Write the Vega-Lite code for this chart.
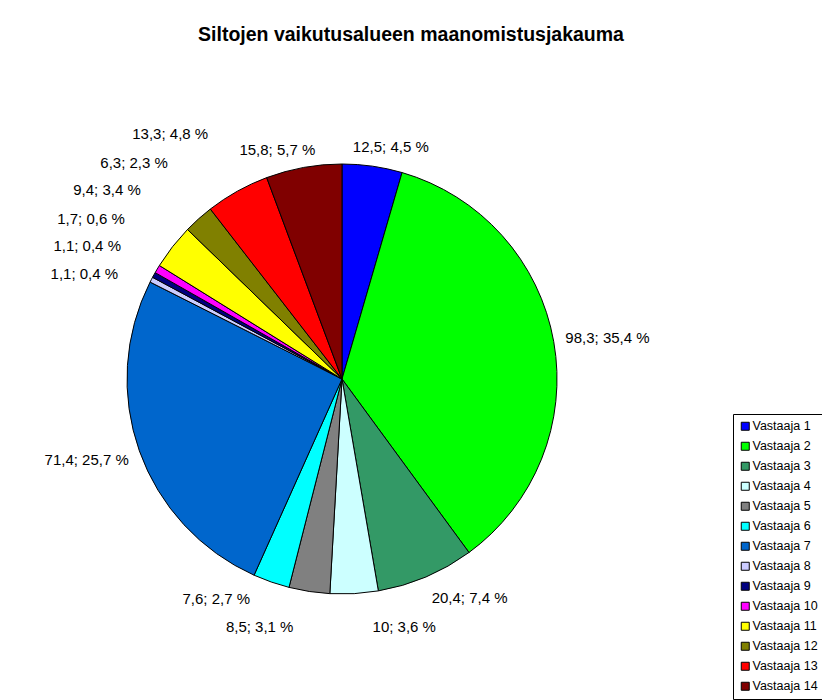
{
  "$schema": "https://vega.github.io/schema/vega-lite/v6.json",
  "width": 430,
  "height": 430,
  "autosize": {"type": "none"},
  "padding": {"left": 127, "top": 164, "right": 265, "bottom": 106},
  "background": "white",
  "title": {
    "text": "Siltojen vaikutusalueen maanomistusjakauma",
    "font": "Liberation Sans",
    "fontSize": 19.5,
    "fontWeight": "bold",
    "color": "black",
    "anchor": "middle",
    "dx": 69,
    "offset": 48
  },
  "config": {
    "view": {"stroke": null},
    "text": {"font": "Liberation Sans", "fontSize": 15, "color": "black", "baseline": "middle"}
  },
  "data": {
    "values": [
      {"n": 1, "name": "Vastaaja 1", "value": 12.5, "label": "12,5; 4,5 %"},
      {"n": 2, "name": "Vastaaja 2", "value": 98.3, "label": "98,3; 35,4 %"},
      {"n": 3, "name": "Vastaaja 3", "value": 20.4, "label": "20,4; 7,4 %"},
      {"n": 4, "name": "Vastaaja 4", "value": 10, "label": "10; 3,6 %"},
      {"n": 5, "name": "Vastaaja 5", "value": 8.5, "label": "8,5; 3,1 %"},
      {"n": 6, "name": "Vastaaja 6", "value": 7.6, "label": "7,6; 2,7 %"},
      {"n": 7, "name": "Vastaaja 7", "value": 71.4, "label": "71,4; 25,7 %"},
      {"n": 8, "name": "Vastaaja 8", "value": 1.1, "label": "1,1; 0,4 %"},
      {"n": 9, "name": "Vastaaja 9", "value": 1.1, "label": "1,1; 0,4 %"},
      {"n": 10, "name": "Vastaaja 10", "value": 1.7, "label": "1,7; 0,6 %"},
      {"n": 11, "name": "Vastaaja 11", "value": 9.4, "label": "9,4; 3,4 %"},
      {"n": 12, "name": "Vastaaja 12", "value": 6.3, "label": "6,3; 2,3 %"},
      {"n": 13, "name": "Vastaaja 13", "value": 13.3, "label": "13,3; 4,8 %"},
      {"n": 14, "name": "Vastaaja 14", "value": 15.8, "label": "15,8; 5,7 %"}
    ]
  },
  "encoding": {
    "theta": {"field": "value", "type": "quantitative", "stack": true},
    "order": {"field": "n", "type": "quantitative"}
  },
  "layer": [
    {
      "mark": {"type": "arc", "outerRadius": 215, "stroke": "black", "strokeWidth": 1},
      "encoding": {
        "color": {
          "field": "name",
          "type": "nominal",
          "sort": ["Vastaaja 1","Vastaaja 2","Vastaaja 3","Vastaaja 4","Vastaaja 5","Vastaaja 6","Vastaaja 7","Vastaaja 8","Vastaaja 9","Vastaaja 10","Vastaaja 11","Vastaaja 12","Vastaaja 13","Vastaaja 14"],
          "scale": {
            "domain": ["Vastaaja 1","Vastaaja 2","Vastaaja 3","Vastaaja 4","Vastaaja 5","Vastaaja 6","Vastaaja 7","Vastaaja 8","Vastaaja 9","Vastaaja 10","Vastaaja 11","Vastaaja 12","Vastaaja 13","Vastaaja 14"],
            "range": ["#0000FF","#00FF00","#339966","#CCFFFF","#808080","#00FFFF","#0066CC","#CCCCFF","#000080","#FF00FF","#FFFF00","#808000","#FF0000","#800000"]
          },
          "legend": {
            "orient": "none",
            "legendX": 606,
            "legendY": 250,
            "title": null,
            "symbolType": "square",
            "symbolSize": 64,
            "symbolStrokeColor": "black",
            "symbolStrokeWidth": 1,
            "labelFont": "Liberation Sans",
            "labelFontSize": 12.5,
            "labelColor": "black",
            "labelOffset": 1,
            "rowPadding": 7,
            "strokeColor": "black",
            "padding": 6
          }
        }
      }
    },
    {"mark": {"type": "text", "align": "left", "dx": -23, "dy": 6},
     "encoding": {"radius": {"value": 240}, "text": {"condition": {"test": "datum.n == 1", "field": "label"}, "value": ""}}},
    {"mark": {"type": "text", "align": "left", "dx": -13, "dy": 1},
     "encoding": {"radius": {"value": 240}, "text": {"condition": {"test": "datum.n == 2", "field": "label"}, "value": ""}}},
    {"mark": {"type": "text", "align": "left", "dx": -4, "dy": -2},
     "encoding": {"radius": {"value": 240}, "text": {"condition": {"test": "datum.n == 3", "field": "label"}, "value": ""}}},
    {"mark": {"type": "text", "align": "left", "dx": 17, "dy": 8},
     "encoding": {"radius": {"value": 240}, "text": {"condition": {"test": "datum.n == 4", "field": "label"}, "value": ""}}},
    {"mark": {"type": "text", "align": "right", "dx": -12, "dy": 11},
     "encoding": {"radius": {"value": 240}, "text": {"condition": {"test": "datum.n == 5", "field": "label"}, "value": ""}}},
    {"mark": {"type": "text", "align": "right", "dx": -13, "dy": -7},
     "encoding": {"radius": {"value": 240}, "text": {"condition": {"test": "datum.n == 6", "field": "label"}, "value": ""}}},
    {"mark": {"type": "text", "align": "right", "dx": 13, "dy": 1},
     "encoding": {"radius": {"value": 240}, "text": {"condition": {"test": "datum.n == 7", "field": "label"}, "value": ""}}},
    {"mark": {"type": "text", "align": "right", "dx": -11, "dy": 6},
     "encoding": {"radius": {"value": 240}, "text": {"condition": {"test": "datum.n == 8", "field": "label"}, "value": ""}}},
    {"mark": {"type": "text", "align": "right", "dx": -11, "dy": -17},
     "encoding": {"radius": {"value": 240}, "text": {"condition": {"test": "datum.n == 9", "field": "label"}, "value": ""}}},
    {"mark": {"type": "text", "align": "right", "dx": -11, "dy": -37},
     "encoding": {"radius": {"value": 240}, "text": {"condition": {"test": "datum.n == 10", "field": "label"}, "value": ""}}},
    {"mark": {"type": "text", "align": "right", "dx": -12, "dy": -41},
     "encoding": {"radius": {"value": 240}, "text": {"condition": {"test": "datum.n == 11", "field": "label"}, "value": ""}}},
    {"mark": {"type": "text", "align": "right", "dx": -14, "dy": -37},
     "encoding": {"radius": {"value": 240}, "text": {"condition": {"test": "datum.n == 12", "field": "label"}, "value": ""}}},
    {"mark": {"type": "text", "align": "right", "dx": -17, "dy": -35},
     "encoding": {"radius": {"value": 240}, "text": {"condition": {"test": "datum.n == 13", "field": "label"}, "value": ""}}},
    {"mark": {"type": "text", "align": "right", "dx": 16, "dy": 7},
     "encoding": {"radius": {"value": 240}, "text": {"condition": {"test": "datum.n == 14", "field": "label"}, "value": ""}}}
  ]
}
